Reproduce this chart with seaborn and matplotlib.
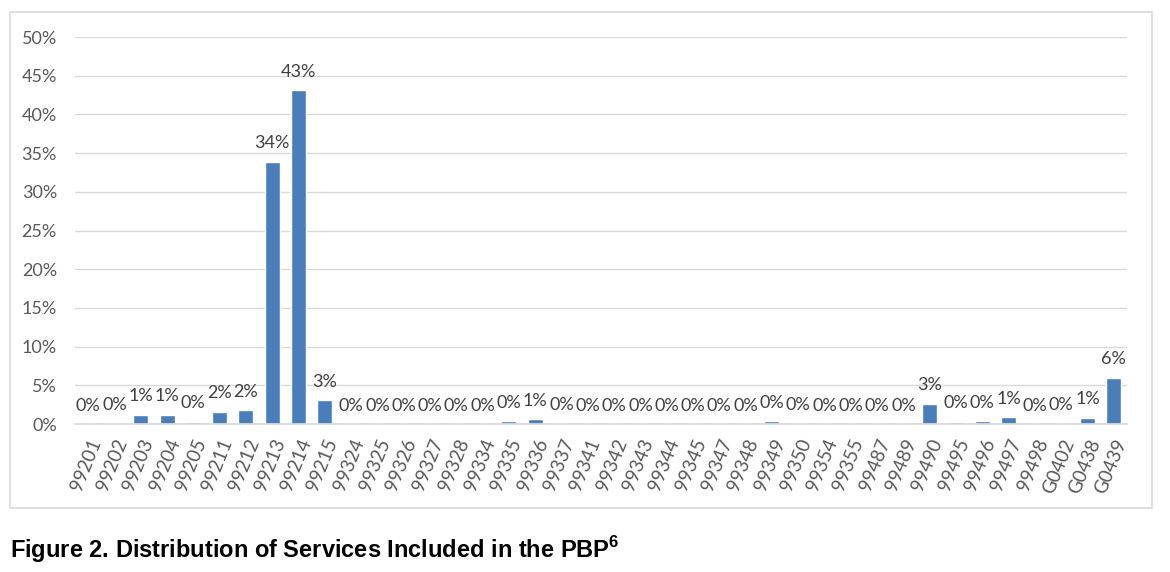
import matplotlib
matplotlib.use("Agg")
import matplotlib.pyplot as plt
import numpy as np
import pandas as pd
import seaborn as sns
from matplotlib.patches import Rectangle

codes = [
    "99201", "99202", "99203", "99204", "99205", "99211", "99212", "99213",
    "99214", "99215", "99324", "99325", "99326", "99327", "99328", "99334",
    "99335", "99336", "99337", "99341", "99342", "99343", "99344", "99345",
    "99347", "99348", "99349", "99350", "99354", "99355", "99487", "99489",
    "99490", "99495", "99496", "99497", "99498", "G0402", "G0438", "G0439",
]
share = [
    0.0, 0.1, 1.2, 1.2, 0.3, 1.6, 1.8, 33.9,
    43.1, 3.1, 0.0, 0.0, 0.0, 0.0, 0.0, 0.0,
    0.4, 0.6, 0.1, 0.0, 0.0, 0.0, 0.0, 0.0,
    0.0, 0.0, 0.4, 0.1, 0.0, 0.0, 0.0, 0.0,
    2.6, 0.3, 0.4, 0.9, 0.0, 0.1, 0.8, 6.0,
]
y_ticks = [0, 5, 10, 15, 20, 25, 30, 35, 40, 45, 50]
title = "Figure 2. Distribution of Services Included in the PBP$^{6}$"

sns.set_theme(style="white")
plt.rcParams["font.family"] = ["Lato", "DejaVu Sans"]
plt.rcParams["mathtext.fontset"] = "custom"
plt.rcParams["mathtext.rm"] = "Liberation Sans:bold"

df = pd.DataFrame({"code": codes, "share": share})

fig = plt.figure(figsize=(11.7, 5.72), dpi=100)
ax = fig.add_axes([0.0641, 0.2587, 0.8991, 0.6766])

sns.barplot(data=df, x="code", y="share", order=codes, color="#4A7EBB",
            saturation=1, width=0.57, ax=ax)

ax.set_ylim(0, 50)
ax.set_xlim(-0.5, len(codes) - 0.5)
ax.set_yticks(y_ticks)
ax.set_yticklabels([f"{t}%" for t in y_ticks])
ax.yaxis.grid(True, color="#d9d9d9", linewidth=1)
ax.set_axisbelow(True)
ax.set_xlabel("")
ax.set_ylabel("")
for side in ["top", "right", "left"]:
    ax.spines[side].set_visible(False)
ax.spines["bottom"].set_color("#d9d9d9")
ax.tick_params(axis="y", length=0, labelsize=13, labelcolor="#595959", pad=13)
ax.tick_params(axis="x", length=0, labelsize=13.5, labelcolor="#595959", pad=9)
plt.setp(ax.get_xticklabels(), rotation=68, ha="right", rotation_mode="anchor")

for i, v in enumerate(share):
    ax.annotate(f"{v:.0f}%", (i, v), xytext=(0, 7.5), textcoords="offset points",
                ha="center", va="bottom", fontsize=13, color="#404040")

fig.patches.append(Rectangle((0.0085, 0.1119), 0.976, 0.867, transform=fig.transFigure,
                             fill=False, edgecolor="#d9d9d9", linewidth=1.2))

fig.text(0.0085, 0.04, title, ha="left", va="center", fontsize=17,
         fontweight="bold", family="Liberation Sans", color="black")

fig.savefig("out.png", dpi=100)
